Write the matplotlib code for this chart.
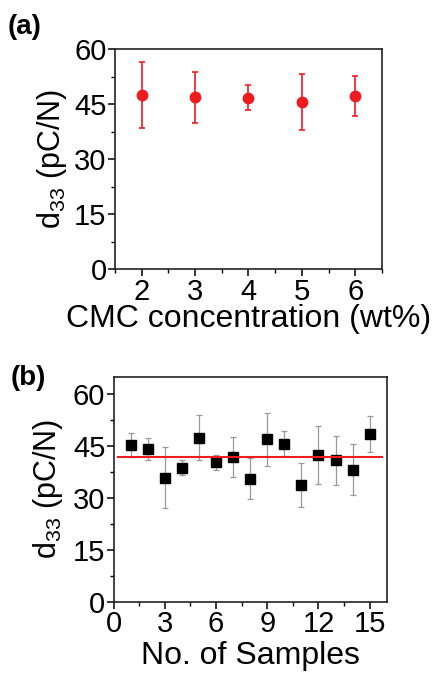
import matplotlib
matplotlib.use("Agg")
import matplotlib.pyplot as plt
from matplotlib.ticker import MultipleLocator

plt.rcParams['font.family'] = ['Liberation Sans', 'DejaVu Sans']
plt.rcParams['mathtext.fontset'] = 'custom'
plt.rcParams['mathtext.rm'] = 'Liberation Sans'
plt.rcParams['mathtext.it'] = 'Liberation Sans'

# panel (a): d33 vs CMC concentration
cmc = [2, 3, 4, 5, 6]
d33_cmc = [47.5, 46.9, 46.7, 45.6, 47.3]
err_cmc = [9.1, 7.0, 3.4, 7.6, 5.5]

# panel (b): d33 of 15 samples
samples = list(range(1, 16))
d33_s = [45.3, 44.2, 35.9, 38.7, 47.4, 40.3, 41.8, 35.6, 46.9, 45.7,
         33.7, 42.4, 40.9, 38.1, 48.6]
err_s = [3.4, 3.1, 8.8, 2.2, 6.5, 2.1, 5.7, 6.0, 7.6, 3.7,
         6.4, 8.4, 7.1, 7.4, 5.2]
mean_d33 = 41.7
mean_span = [0.2, 15.8]

red = '#ee1b1f'

fig = plt.figure(figsize=(4.37, 6.73), dpi=100)
ax1 = fig.add_axes([0.263, 0.600, 0.611, 0.327])
ax2 = fig.add_axes([0.260, 0.106, 0.625, 0.334])

ax1.errorbar(cmc, d33_cmc, yerr=err_cmc, fmt='o', color=red, ms=7.5,
             ecolor=red, elinewidth=1.2, capsize=2.5, capthick=1.2)
ax1.set_xlim(1.5, 6.5)
ax1.set_ylim(0, 60)
ax1.xaxis.set_major_locator(MultipleLocator(1))
ax1.xaxis.set_minor_locator(MultipleLocator(0.5))
ax1.yaxis.set_major_locator(MultipleLocator(15))
ax1.yaxis.set_minor_locator(MultipleLocator(7.5))
ax1.set_xlabel('CMC concentration (wt%)', fontsize=23, labelpad=-1)
ax1.set_ylabel(r'd$_{\mathrm{33}}$ (pC/N)', fontsize=22, labelpad=4)

ax2.errorbar(samples, d33_s, yerr=err_s, fmt='s', color='black', ms=6.5,
             ecolor='#999999', elinewidth=0.9, capsize=2, capthick=0.9)
ax2.hlines(mean_d33, mean_span[0], mean_span[1], color=red, lw=1.5, zorder=3)
ax2.set_xlim(0, 16)
ax2.set_ylim(0, 65)
ax2.xaxis.set_major_locator(MultipleLocator(3))
ax2.xaxis.set_minor_locator(MultipleLocator(1.5))
ax2.yaxis.set_major_locator(MultipleLocator(15))
ax2.yaxis.set_minor_locator(MultipleLocator(7.5))
ax2.set_xlabel('No. of Samples', fontsize=23, labelpad=2)
ax2.set_ylabel(r'd$_{\mathrm{33}}$ (pC/N)', fontsize=22, labelpad=6)

for ax in (ax1, ax2):
    for s in ax.spines.values():
        s.set_linewidth(1.2)
        s.set_color('#222222')
    ax.tick_params(which='major', direction='out', length=5, width=1.1,
                   labelsize=21, pad=1)
    ax.tick_params(which='minor', direction='out', length=3, width=1.0)

fig.text(0.018, 0.960, '(a)', fontsize=20, fontweight='bold', va='center')
fig.text(0.025, 0.438, '(b)', fontsize=20, fontweight='bold', va='center')

fig.savefig('out.png', dpi=100)
